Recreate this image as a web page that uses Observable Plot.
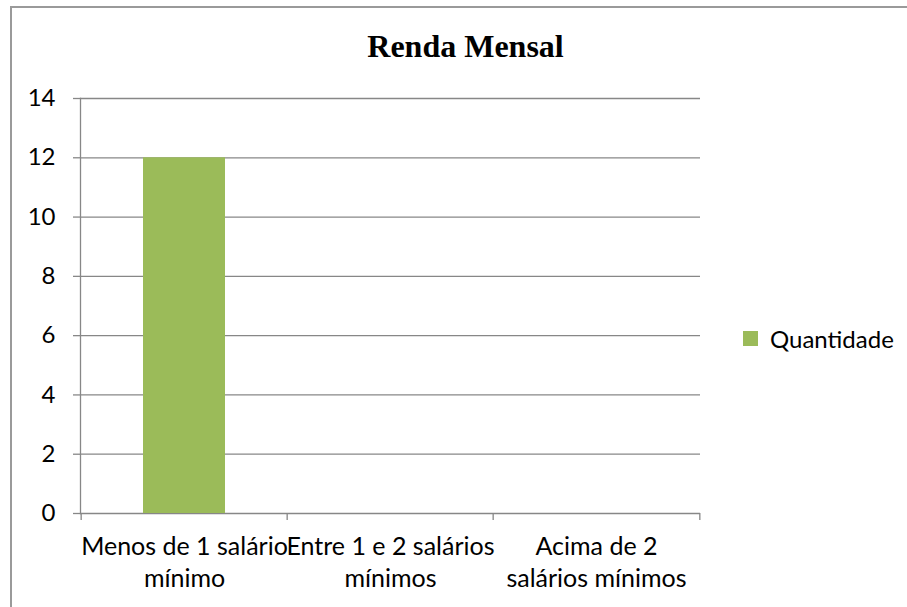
<!DOCTYPE html>
<html>
<head>
<meta charset="utf-8">
<script src="https://cdn.jsdelivr.net/npm/d3@7"></script>
<script src="https://cdn.jsdelivr.net/npm/@observablehq/plot@0.6"></script>
<style>
  html, body { margin: 0; padding: 0; background: #fff; overflow: hidden; }
  #wrap { position: relative; width: 907px; height: 607px; overflow: hidden; background: #fff; }
  #border { position: absolute; left: 10px; top: 6px; width: 1000px; height: 700px; border: 2px solid #9a9a9a; box-sizing: border-box; }
  #title { position: absolute; left: 12px; top: 30px; width: 907px; text-align: center; font-family: "Liberation Serif", "Times New Roman", serif; font-weight: bold; font-size: 32px; line-height: 32px; color: #000; }
  #chart { position: absolute; left: 0; top: 0; }
  #legend { position: absolute; left: 743px; top: 322px; }
</style>
</head>
<body>
<div id="wrap">
  <div id="border"></div>
  <div id="chart"></div>
  <div id="title">Renda Mensal</div>
  <div id="legend"></div>
</div>
<script>
const categories = ["Menos de 1 salário\nmínimo", "Entre 1 e 2 salários\nmínimos", "Acima de 2\nsalários mínimos"];
const values = [12, 0, 0];
const seriesName = "Quantidade";
const seriesColor = "#9BBB59";
const yTicks = [0, 2, 4, 6, 8, 10, 12, 14];

const data = categories.map((c, i) => ({category: c, value: values[i], series: seriesName}));

const W = 907, H = 607, ML = 80, MR = 207, MT = 98, MB = 94;
const paddingInner = 0.6, paddingOuter = 0.3;
const step = (W - ML - MR) / (categories.length - paddingInner + 2 * paddingOuter);
const gray = "#878787";
const font = "Lato";
const fs = 25;

const chart = Plot.plot({
  width: W, height: H,
  marginLeft: ML, marginRight: MR, marginTop: MT, marginBottom: MB,
  style: {fontFamily: font, fontSize: fs + "px", color: "#000", background: "transparent", overflow: "visible"},
  x: {type: "band", domain: categories, paddingInner, paddingOuter, axis: null, label: null},
  y: {domain: [0, 14], axis: null, label: null},
  color: {domain: [seriesName], range: [seriesColor]},
  marks: [
    Plot.gridY(yTicks, {stroke: gray, strokeOpacity: 1, strokeWidth: 1.3}),
    Plot.axisY(yTicks, {anchor: "left", label: null, tickSize: 7, tickPadding: 18, stroke: gray, strokeWidth: 1.3, fontSize: 24, fill: "#000", tickFormat: d => String(d)}),
    Plot.frame({anchor: "left", stroke: gray, strokeWidth: 1.3}),
    Plot.barY(data, {x: "category", y: "value", fill: "series"}),
    Plot.axisX({anchor: "bottom", label: null, tickSize: 0, tickPadding: 19, fontSize: fs, lineHeight: 1.28, fill: "#000"}),
    Plot.axisX(categories, {anchor: "bottom", label: null, tickSize: 7, stroke: gray, strokeWidth: 1.3, dx: -step / 2, tickFormat: () => ""}),
    Plot.axisX([categories[categories.length - 1]], {anchor: "bottom", label: null, tickSize: 7, stroke: gray, strokeWidth: 1.3, dx: step / 2, tickFormat: () => ""})
  ]
});
document.getElementById("chart").appendChild(chart);

const legend = Plot.legend({
  color: {domain: [seriesName], range: [seriesColor]},
  legend: "swatches",
  swatchSize: 15,
  style: {fontFamily: font, fontSize: "24px", color: "#000"}
});
document.getElementById("legend").appendChild(legend);
</script>
</body>
</html>
